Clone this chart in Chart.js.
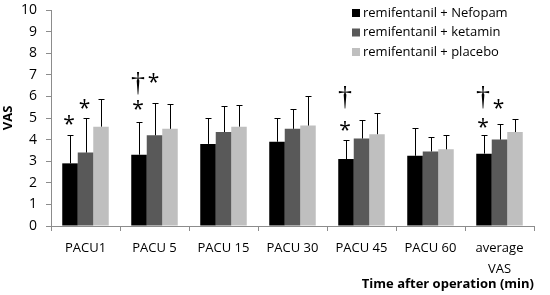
<!DOCTYPE html>
<html>
<head>
<meta charset="utf-8">
<script src="https://cdn.jsdelivr.net/npm/chart.js@4"></script>
<style>
  html, body { margin: 0; padding: 0; background: #fff; }
  #wrap { width: 550px; height: 295px; }
</style>
</head>
<body>
<div id="wrap"><canvas id="chart" width="550" height="295"></canvas></div>
<script>
// categories along the x axis
const categories = ['PACU1', 'PACU 5', 'PACU 15', 'PACU 30', 'PACU 45', 'PACU 60', ['average', 'VAS']];

// mean VAS per group
const nefopam = [2.9, 3.3, 3.8, 3.9, 3.1, 3.25, 3.35];
const ketamin = [3.4, 4.2, 4.35, 4.5, 4.05, 3.45, 4.0];
const placebo = [4.6, 4.5, 4.6, 4.65, 4.25, 3.55, 4.35];

// upper error (SD)
const nefopamSD = [1.3, 1.5, 1.2, 1.1, 0.9, 1.3, 0.85];
const ketaminSD = [1.6, 1.5, 1.2, 0.9, 0.85, 0.65, 0.7];
const placeboSD = [1.3, 1.15, 1.0, 1.35, 1.0, 0.65, 0.6];

const yTicks = [0, 1, 2, 3, 4, 5, 6, 7, 8, 9, 10];

// significance marks: category index, series index, symbol, VAS level
const markCats    = [0, 0, 1, 1, 1, 4, 4, 6, 6, 6];
const markSeries  = [0, 1, 0, 0, 1, 0, 0, 0, 0, 1];
const markSymbols = ['*', '*', '*', '†', '*', '*', '†', '*', '†', '*'];
const markValues  = [4.9, 5.65, 5.6, 6.6, 6.83, 4.65, 5.95, 4.79, 5.93, 5.67];

const FONT = '"Open Sans", "Noto Sans", sans-serif';
const AXIS = '#8c8c8c';

const errorBars = {
  id: 'errorBars',
  afterDatasetsDraw(chart) {
    const ctx = chart.ctx;
    const y = chart.scales.y;
    ctx.save();
    ctx.strokeStyle = '#000';
    ctx.lineWidth = 1;
    chart.data.datasets.forEach((ds, i) => {
      const meta = chart.getDatasetMeta(i);
      meta.data.forEach((bar, j) => {
        const top = Math.round(y.getPixelForValue(ds.data[j] + ds.sd[j])) + 0.5;
        const x = Math.round(bar.x) + 0.5;
        ctx.beginPath();
        ctx.moveTo(x, bar.y);
        ctx.lineTo(x, top);
        ctx.moveTo(x - 3, top);
        ctx.lineTo(x + 3, top);
        ctx.stroke();
      });
    });

    // significance symbols
    ctx.fillStyle = '#000';
    ctx.textAlign = 'center';
    ctx.textBaseline = 'middle';
    markCats.forEach((c, k) => {
      const bar = chart.getDatasetMeta(markSeries[k]).data[c];
      const py = y.getPixelForValue(markValues[k]);
      if (markSymbols[k] === '*') {
        ctx.font = '21px ' + FONT;
        ctx.fillText('*', bar.x - 1, py + 5);
      } else {
        ctx.font = '28px "Liberation Serif", serif';
        ctx.fillText('†', bar.x - 1, py);
      }
    });

    // legend
    ctx.font = '13px ' + FONT;
    ctx.textAlign = 'left';
    chart.data.datasets.forEach((ds, i) => {
      const ly = 13 + i * 19.5;
      ctx.fillStyle = ds.backgroundColor;
      ctx.fillRect(352, ly - 4, 8, 8);
      ctx.fillStyle = '#000';
      ctx.fillText(ds.label, 363, ly);
    });
    ctx.restore();
  }
};

new Chart(document.getElementById('chart'), {
  type: 'bar',
  data: {
    labels: categories,
    datasets: [
      { label: 'remifentanil + Nefopam', data: nefopam, sd: nefopamSD, backgroundColor: '#000000' },
      { label: 'remifentanil + ketamin', data: ketamin, sd: ketaminSD, backgroundColor: '#595959' },
      { label: 'remifentanil + placebo', data: placebo, sd: placeboSD, backgroundColor: '#bfbfbf' }
    ]
  },
  options: {
    responsive: false,
    animation: false,
    devicePixelRatio: 1,
    layout: { padding: { left: 0, right: 16, top: 10, bottom: 3 } },
    datasets: { bar: { categoryPercentage: 0.674, barPercentage: 1.0 } },
    plugins: { legend: { display: false }, tooltip: { enabled: false } },
    scales: {
      x: {
        afterFit: s => { s.height = 66; },
        grid: { drawOnChartArea: false, drawTicks: true, tickLength: 5, color: AXIS, offset: true },
        border: { color: AXIS },
        ticks: { color: '#000', padding: 7, font: { family: FONT, size: 13, lineHeight: 1.6 }, maxRotation: 0 },
        title: {
          display: true, text: 'Time after operation (min)', align: 'end', color: '#000',
          font: { family: FONT, size: 13, weight: 'bold' }, padding: { top: 0, bottom: 0 }
        }
      },
      y: {
        min: 0, max: 10,
        afterBuildTicks: s => { s.ticks = yTicks.map(v => ({ value: v })); },
        afterFit: s => { s.width = 51; s.paddingTop = 0; s.paddingBottom = 0; },
        grid: { drawOnChartArea: false, drawTicks: true, tickLength: 5, color: AXIS },
        border: { color: AXIS },
        ticks: { color: '#000', padding: 9, font: { family: FONT, size: 14 } },
        title: {
          display: true, text: 'VAS', color: '#000',
          font: { family: FONT, size: 13, weight: 'bold' }, padding: { top: 0, bottom: 0 }
        }
      }
    }
  },
  plugins: [errorBars]
});
</script>
</body>
</html>
